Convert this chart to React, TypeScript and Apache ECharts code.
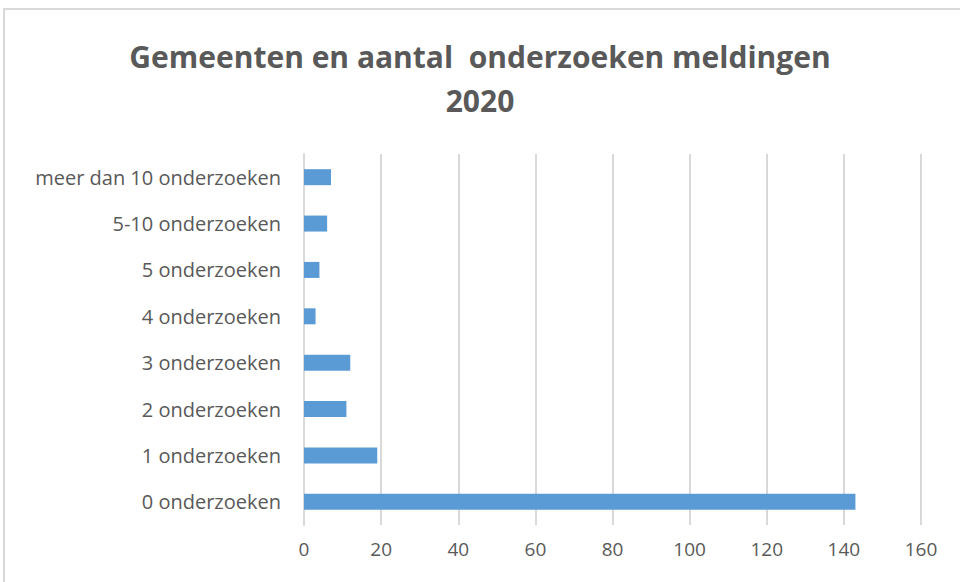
import React, { useEffect, useRef } from "react";
import * as echarts from "echarts";

const categories = [
  "0 onderzoeken",
  "1 onderzoeken",
  "2 onderzoeken",
  "3 onderzoeken",
  "4 onderzoeken",
  "5 onderzoeken",
  "5-10 onderzoeken",
  "meer dan 10 onderzoeken",
];
const values = [143, 19, 11, 12, 3, 4, 6, 7];
const titleLines = ["Gemeenten en aantal  onderzoeken meldingen", "2020"];

export default function App() {
  const ref = useRef<HTMLDivElement>(null);
  useEffect(() => {
    document.body.style.margin = "0";
    if (!ref.current) return;
    const chart = echarts.init(ref.current, null, { renderer: "svg" });
    chart.setOption({
      animation: false,
      backgroundColor: "#ffffff",
      textStyle: { fontFamily: "Open Sans" },
      title: {
        text: titleLines.join("\n"),
        left: "center",
        top: 29,
        textStyle: {
          fontFamily: "Open Sans",
          fontWeight: "bold",
          fontSize: 30,
          lineHeight: 44,
          color: "#595959",
        },
      },
      graphic: [
        {
          type: "rect",
          shape: { x: 4, y: 9, width: 1000, height: 700 },
          style: { fill: "none", stroke: "#d9d9d9", lineWidth: 2 },
          silent: true,
        },
      ],
      grid: { left: 304, right: 39, top: 154, height: 371, containLabel: false },
      xAxis: {
        type: "value",
        min: 0,
        max: 160,
        interval: 20,
        axisLine: { show: false },
        axisTick: { show: false },
        splitLine: { lineStyle: { color: "#d9d9d9", width: 2 } },
        axisLabel: { color: "#595959", fontSize: 19, margin: 14, fontFamily: "Open Sans" },
      },
      yAxis: {
        type: "category",
        data: categories,
        axisLine: { show: true, lineStyle: { color: "#d9d9d9", width: 2 } },
        axisTick: { show: false },
        axisLabel: { color: "#595959", fontSize: 20, margin: 23, fontFamily: "Open Sans" },
      },
      series: [
        {
          type: "bar",
          data: values,
          barWidth: 16,
          itemStyle: { color: "#5b9bd5" },
        },
      ],
    });
    return () => chart.dispose();
  }, []);
  return <div ref={ref} style={{ width: 960, height: 582 }} />;
}
